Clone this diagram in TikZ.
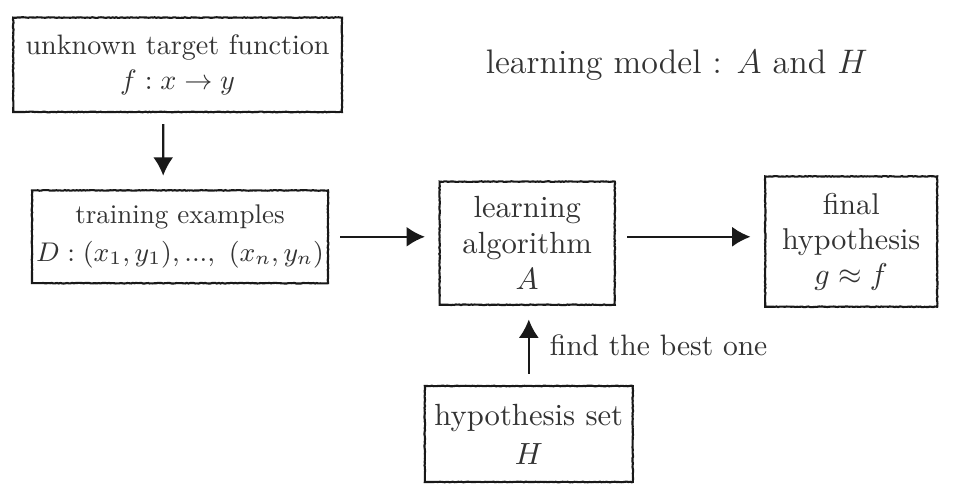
\RequirePackage{fix-cm}
\documentclass[tikz,border=0pt]{standalone}
\usepackage{fontspec}
\usepackage{xcolor}
\usepackage{tikz}
\usetikzlibrary{arrows.meta,calc,decorations.pathmorphing}
\tikzset{
    rough/.style={decorate, decoration={random steps, segment length=0.6pt, amplitude=0.12pt, pre length=1mm, post length=1mm}},
    blk/.style args={#1/#2}{draw=black!90, rough, line width=0.75pt, minimum width=#1, minimum height=#2, align=center, inner sep=0pt, text=black!80},
    lnk/.style={->, draw=black!90, line width=0.75pt, shorten <=0.14cm, shorten >=0.17cm}
}

\begin{document}
\begin{tikzpicture}[>={Latex[length=2.3mm,width=2.5mm]}]
\useasboundingbox (0,0) rectangle (11.9125,6.3);
\node[blk={4.11cm/1.18cm}, font=\fontsize{10}{12.2}\selectfont] (target) at (2.22,5.49) {unknown target function\\$f: x \to y$};
\node[blk={3.7cm/1.16cm}, font=\fontsize{9.6}{13.5}\selectfont] (train) at (2.25,3.34) {training examples\\$D: (x_1, y_1), ..., \ (x_n, y_n)$};
\node[blk={2.19cm/1.54cm}, font=\fontsize{10.9}{12.8}\selectfont] (algo) at (6.59,3.26) {learning\\algorithm\\$A$};
\node[blk={2.15cm/1.63cm}, font=\fontsize{10.7}{12.5}\selectfont] (final) at (10.64,3.28) {final\\hypothesis\\$g \approx f$};
\node[blk={2.6cm/1.2cm}, font=\fontsize{10.9}{13.8}\selectfont] (hset) at (6.61,0.875) {hypothesis set\\$H$};
\node[text=black!80, font=\fontsize{12.1}{14}\selectfont] (model) at (8.46,5.49) {learning model : $A$ and $H$};
\draw[lnk] ([xshift=-0.18cm]target.south) -- ([xshift=-0.21cm]train.north);
\draw[lnk] (train.east) -- (train.east -| algo.west);
\draw[lnk] ([yshift=0.08cm]algo.east) -- ([yshift=0.08cm]algo.east -| final.west);
\draw[lnk] (hset.north) -- (hset.north |- algo.south)
    node[midway, right=0.25cm, inner sep=0pt, text=black!80, font=\fontsize{10.5}{12}\selectfont] (hint) {find the best one};
\end{tikzpicture}
\end{document}
